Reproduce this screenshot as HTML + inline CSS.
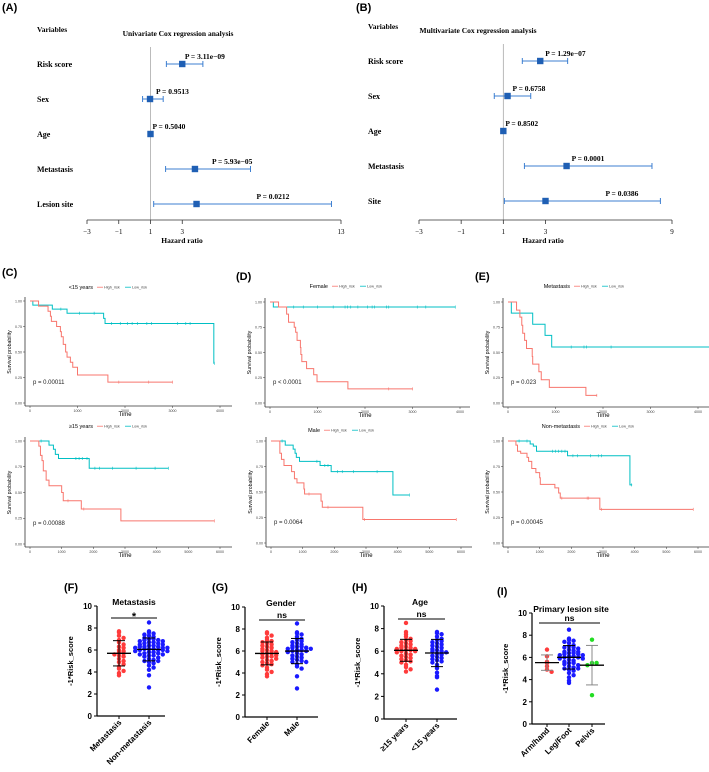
<!DOCTYPE html>
<html><head><meta charset="utf-8">
<style>
html,body{margin:0;padding:0;background:#fff;}
svg{display:block;}
.serif{font-family:"Liberation Serif",serif;font-weight:bold;}
.sans{font-family:"Liberation Sans",sans-serif;}
</style></head>
<body>
<svg id="fig" width="709" height="772" viewBox="0 0 709 772" xmlns="http://www.w3.org/2000/svg">
<rect width="709" height="772" fill="#fff"/>
<g class="sans" font-weight="bold" font-size="11">
<text x="2" y="11">(A)</text>
<text x="356" y="11">(B)</text>
<text x="2" y="276">(C)</text>
<text x="236" y="280">(D)</text>
<text x="475" y="280">(E)</text>
<text x="64" y="591">(F)</text>
<text x="212" y="591">(G)</text>
<text x="352" y="591">(H)</text>
<text x="497" y="595">(I)</text>
</g>
</svg>
<script>
const NS="http://www.w3.org/2000/svg";
const svg=document.getElementById('fig');
function el(tag,attrs,parent,txt){const e=document.createElementNS(NS,tag);for(const k in attrs)e.setAttribute(k,attrs[k]);if(txt!==undefined)e.textContent=txt;(parent||svg).appendChild(e);return e;}

/* ---------- Forest plot data ---------- */
const uniVars=["Risk score","Sex","Age","Metastasis","Lesion site"];
const uniHR=[3.0,0.97,1.0,3.8,3.9];
const uniLo=[2.0,0.5,0.95,1.95,1.2];
const uniHi=[4.3,1.8,1.05,7.3,12.4];
const uniP=["P = 3.11e\u221209","P = 0.9513","P = 0.5040","P = 5.93e\u221205","P = 0.0212"];
const uniTicks=[-3,-1,1,3,13];
const multiVars=["Risk score","Sex","Age","Metastasis","Site"];
const multiHR=[2.75,1.2,1.0,4.0,3.0];
const multiLo=[1.9,0.57,0.95,2.0,1.05];
const multiHi=[4.05,2.3,1.05,8.05,8.45];
const multiP=["P = 1.29e\u221207","P = 0.6758","P = 0.8502","P = 0.0001","P = 0.0386"];
const multiTicks=[-3,-1,1,3,9];

function forest(cfg,vars,hr,lo,hi,pv,ticks,title){
  const g=el('g',{class:'serif'});
  
  
  const sx=v=>cfg.x0+(v-ticks[0])/(ticks[ticks.length-1]-ticks[0])*(cfg.x1-cfg.x0);
  el('text',{x:cfg.lx,y:cfg.top-32,'font-size':7.5},g,'Variables');
  el('text',{x:cfg.tx,y:cfg.top-28,'font-size':7.5,'text-anchor':'middle'},g,title);
  el('line',{x1:sx(1),x2:sx(1),y1:cfg.top-17,y2:cfg.axisY,stroke:'#aaa','stroke-width':0.8},g);
  vars.forEach((v,i)=>{
    const y=cfg.top+i*35;
    el('text',{x:cfg.lx,y:y+3,'font-size':8},g,v);
    const row=el('g',{},g);
    
    
    el('line',{x1:sx(lo[i]),x2:sx(hi[i]),y1:y,y2:y,stroke:'#3d7fd1','stroke-width':1.1},row);
    el('line',{x1:sx(lo[i]),x2:sx(lo[i]),y1:y-3,y2:y+3,stroke:'#3d7fd1','stroke-width':1},row);
    el('line',{x1:sx(hi[i]),x2:sx(hi[i]),y1:y-3,y2:y+3,stroke:'#3d7fd1','stroke-width':1},row);
    el('rect',{x:sx(hr[i])-3.2,y:y-3.2,width:6.4,height:6.4,fill:'#1f5fb4'},row);
    const px=Math.max(sx(hr[i])+2,Math.min(sx(hi[i])-18,sx(hr[i])+(i==4?60:5)));
    el('text',{x:px+(cfg.poff[i]||0),y:y-5,'font-size':7.5},row,pv[i]);
  });
  el('line',{x1:cfg.x0,x2:cfg.x1,y1:cfg.axisY,y2:cfg.axisY,stroke:'#333','stroke-width':0.8},g);
  ticks.forEach(t=>{
    el('line',{x1:sx(t),x2:sx(t),y1:cfg.axisY,y2:cfg.axisY+4,stroke:'#333','stroke-width':0.8},g);
    el('text',{x:sx(t),y:cfg.axisY+14,'font-size':7,'text-anchor':'middle','font-weight':'normal'},g,(t<0?'\u2212'+(-t):t));
  });
  el('text',{x:cfg.hx,y:cfg.axisY+23,'font-size':7.5,'text-anchor':'middle'},g,'Hazard ratio');
}
forest({name:'forest-univariate',x0:87,x1:341,axisY:220,top:64,lx:37,tx:178,hx:182,poff:[0,4,0,12,0]},uniVars,uniHR,uniLo,uniHi,uniP,uniTicks,'Univariate Cox regression analysis');
forest({name:'forest-multivariate',x0:419,x1:672,axisY:220,top:61,lx:368,tx:478,hx:543,poff:[0,0,0,0,0]},multiVars,multiHR,multiLo,multiHi,multiP,multiTicks,'Multivariate Cox regression analysis');

/* ---------- KM data ---------- */
const cTopHighT=[180,380,430,450,560,640,660,700,750,780,850,900,1000,1640];
const cTopHighS=[0.95,0.90,0.85,0.80,0.75,0.70,0.65,0.575,0.50,0.45,0.40,0.35,0.275,0.205];
const cTopHighEnd=3000; const cTopHighCens=[1870,2500,3000];
const cTopLowT=[60,470,780,1550,1580,3870];
const cTopLowS=[0.96,0.92,0.88,0.83,0.78,0.39];
const cTopLowEnd=3880; const cTopLowCens=[650,1040,1350,1720,1900,2050,2150,2260,2460,2560,3110,3280,3370,3880];

const cBotHighT=[280,330,380,420,510,600,1000,1050,1620,2870];
const cBotHighS=[0.95,0.86,0.81,0.71,0.62,0.565,0.50,0.42,0.34,0.225];
const cBotHighEnd=5820; const cBotHighCens=[1200,1700,5820];
const cBotLowT=[600,740,800,900,1870];
const cBotLowS=[0.96,0.92,0.87,0.83,0.735];
const cBotLowEnd=4370; const cBotLowCens=[350,1450,1550,1650,1800,2050,2200,2600,3350,3950,4370];

const dTopHighT=[180,350,390,510,540,570,640,650,670,770,920,990,1640];
const dTopHighS=[0.95,0.88,0.80,0.75,0.70,0.62,0.55,0.48,0.41,0.34,0.28,0.21,0.14];
const dTopHighEnd=3000; const dTopHighCens=[2500,3000];
const dTopLowT=[70];
const dTopLowS=[0.95];
const dTopLowEnd=3900; const dTopLowCens=[500,700,1000,1330,1580,1630,1700,1850,2050,2150,2200,2450,2500,3100,3280,3900];

const dBotHighT=[280,330,410,650,740,820,1040,1060,1580,1620,2900];
const dBotHighS=[0.88,0.82,0.76,0.70,0.63,0.59,0.53,0.48,0.41,0.35,0.23];
const dBotHighEnd=5850; const dBotHighCens=[1200,1800,2950,5850];
const dBotLowT=[450,700,760,800,900,1550,1900,3850];
const dBotLowS=[0.96,0.92,0.88,0.84,0.80,0.76,0.70,0.47];
const dBotLowEnd=4370; const dBotLowCens=[350,1450,1700,1800,2100,2250,2600,3350,4370];

const eTopHighT=[180,250,290,310,350,390,510,520,650,700,870,1640];
const eTopHighS=[0.92,0.85,0.77,0.69,0.62,0.54,0.46,0.385,0.31,0.23,0.155,0.075];
const eTopHighEnd=1870; const eTopHighCens=[1870];
const eTopLowT=[70,520,780,920];
const eTopLowS=[0.89,0.78,0.67,0.555];
const eTopLowEnd=4300; const eTopLowCens=[1330,1600,1650,2170];

const eBotHighT=[250,300,400,600,650,750,880,1000,1020,1480,1600,1650,2900];
const eBotHighS=[0.96,0.90,0.88,0.84,0.80,0.73,0.69,0.64,0.575,0.54,0.49,0.44,0.33];
const eBotHighEnd=5850; const eBotHighCens=[1700,2500,2550,2950,5850];
const eBotLowT=[700,800,900,1880,3850];
const eBotLowS=[0.97,0.95,0.90,0.855,0.57];
const eBotLowEnd=3920; const eBotLowCens=[350,600,1400,1500,1600,1700,1800,2050,2200,2600,2850,2950,3900];

const kmYTicks=[0,0.25,0.5,0.75,1];
const kmPvals=["p = 0.00011","p = 0.00088","p < 0.0001","p = 0.0064","p = 0.023","p = 0.00045"];

const HIGH='#F8766D', LOW='#00BFC4';
function km(cfg,hT,hS,hEnd,hC,lT,lS,lEnd,lC,pv,xTicks){
  const g=el('g',{class:'sans'});
  
  
  const sx=t=>cfg.x0+t/cfg.tmax*190;
  const sy=s=>cfg.y0+(1-s)*(cfg.y1-cfg.y0);
  const ax=cfg.x0-5;
  el('line',{x1:ax,x2:ax,y1:cfg.y0-4,y2:cfg.axisY,stroke:'#333','stroke-width':0.8},g);
  el('line',{x1:ax,x2:cfg.xEnd,y1:cfg.axisY,y2:cfg.axisY,stroke:'#333','stroke-width':0.8},g);
  kmYTicks.forEach(v=>{
    el('line',{x1:ax-2,x2:ax,y1:sy(v),y2:sy(v),stroke:'#333','stroke-width':0.5},g);
    el('text',{x:ax-3,y:sy(v)+1.3,'font-size':3.6,'text-anchor':'end',fill:'#444'},g,v.toFixed(2));
  });
  xTicks.forEach(t=>{
    el('line',{x1:sx(t),x2:sx(t),y1:cfg.axisY,y2:cfg.axisY+2,stroke:'#333','stroke-width':0.5},g);
    el('text',{x:sx(t),y:cfg.axisY+6,'font-size':3.6,'text-anchor':'middle',fill:'#444'},g,t);
  });
  el('text',{x:cfg.x0+95,y:cfg.axisY+10,'font-size':6,'text-anchor':'middle'},g,'Time');
  el('text',{x:0,y:0,'font-size':5.2,'text-anchor':'middle',transform:`translate(${cfg.x0-19},${(cfg.y0+cfg.y1)/2}) rotate(-90)`},g,'Survival probability');
  el('text',{x:cfg.x0+3,y:cfg.y1-19,'font-size':6,fill:'#222'},g,pv);
  el('text',{x:cfg.lgx,y:cfg.lgy,'font-size':5.5,'text-anchor':'end'},g,cfg.title);
  el('line',{x1:cfg.lgx+4,x2:cfg.lgx+10,y1:cfg.lgy-1.8,y2:cfg.lgy-1.8,stroke:HIGH,'stroke-width':0.8},g);
  el('text',{x:cfg.lgx+11,y:cfg.lgy-0.5,'font-size':3.8,fill:'#444'},g,'High_risk');
  el('line',{x1:cfg.lgx+32,x2:cfg.lgx+38,y1:cfg.lgy-1.8,y2:cfg.lgy-1.8,stroke:LOW,'stroke-width':0.8},g);
  el('text',{x:cfg.lgx+39,y:cfg.lgy-0.5,'font-size':3.8,fill:'#444'},g,'Low_risk');
  function curve(T,S,end,C,col,nm){
    let d=`M${sx(0)},${sy(1)}`;
    T.forEach((t,i)=>{d+=` H${sx(t)} V${sy(S[i])}`;});
    d+=` H${Math.min(sx(end),cfg.xEnd)}`;
    const p=el('path',{d:d,fill:'none',stroke:col,'stroke-width':1},g);
    
    
    C.forEach(c=>{
      let s=1;T.forEach((t,i)=>{if(t<=c)s=S[i];});
      if(sx(c)<=cfg.xEnd) el('line',{x1:sx(c),x2:sx(c),y1:sy(s)-1.5,y2:sy(s)+1.5,stroke:col,'stroke-width':0.6},g);
    });
  }
  curve(lT,lS,lEnd,lC,LOW,'low-risk-curve');
  curve(hT,hS,hEnd,hC,HIGH,'high-risk-curve');
}
const xt4=[0,1000,2000,3000,4000], xt6=[0,1000,2000,3000,4000,5000,6000];
km({name:'km-c-under15',x0:30,y0:301,y1:403,axisY:406,tmax:4000,xEnd:232,title:'<15 years',lgx:93,lgy:289},cTopHighT,cTopHighS,cTopHighEnd,cTopHighCens,cTopLowT,cTopLowS,cTopLowEnd,cTopLowCens,kmPvals[0],xt4);
km({name:'km-c-over15',x0:30,y0:441,y1:544,axisY:547,tmax:6000,xEnd:232,title:'\u226515 years',lgx:93,lgy:428},cBotHighT,cBotHighS,cBotHighEnd,cBotHighCens,cBotLowT,cBotLowS,cBotLowEnd,cBotLowCens,kmPvals[1],xt6);
km({name:'km-d-female',x0:270,y0:302,y1:403,axisY:407,tmax:4000,xEnd:470,title:'Female',lgx:328,lgy:288},dTopHighT,dTopHighS,dTopHighEnd,dTopHighCens,dTopLowT,dTopLowS,dTopLowEnd,dTopLowCens,kmPvals[2],xt4);
km({name:'km-d-male',x0:271,y0:441,y1:543,axisY:547,tmax:6000,xEnd:472,title:'Male',lgx:320,lgy:432},dBotHighT,dBotHighS,dBotHighEnd,dBotHighCens,dBotLowT,dBotLowS,dBotLowEnd,dBotLowCens,kmPvals[3],xt6);
km({name:'km-e-metastasis',x0:508,y0:302,y1:403,axisY:407,tmax:4000,xEnd:709,title:'Metastasis',lgx:570,lgy:288},eTopHighT,eTopHighS,eTopHighEnd,eTopHighCens,eTopLowT,eTopLowS,eTopLowEnd,eTopLowCens,kmPvals[4],xt4);
km({name:'km-e-nonmetastasis',x0:508,y0:441,y1:543,axisY:547,tmax:6000,xEnd:709,title:'Non-metastasis',lgx:580,lgy:428},eBotHighT,eBotHighS,eBotHighEnd,eBotHighCens,eBotLowT,eBotLowS,eBotLowEnd,eBotLowCens,kmPvals[5],xt6);

/* ---------- Scatter data ---------- */
const fCats=["Metastasis","Non-metastasis"];
const fMet=[7.7,7.6,7.3,7.1,6.9,6.7,6.5,6.3,6.2,6.0,5.9,5.8,5.7,5.6,5.5,5.4,5.2,5.0,4.9,4.7,4.5,4.3,4.1,3.9,3.7];
const fNon=[8.5,7.7,7.6,7.5,7.4,7.3,7.2,7.1,7.0,7.0,6.9,6.9,6.8,6.8,6.7,6.7,6.6,6.6,6.5,6.5,6.4,6.4,6.3,6.3,6.3,6.2,6.2,6.2,6.1,6.1,6.1,6.0,6.0,6.0,5.9,5.9,5.8,5.8,5.7,5.7,5.6,5.6,5.5,5.5,5.4,5.3,5.2,5.1,5.0,5.0,4.9,4.8,4.6,4.4,4.2,3.7,2.6];
const gCats=["Female","Male"];
const gFemale=[7.7,7.6,7.4,7.2,7.0,6.9,6.8,6.7,6.6,6.5,6.4,6.3,6.2,6.1,6.0,6.0,5.9,5.8,5.8,5.7,5.6,5.5,5.5,5.4,5.3,5.2,5.1,5.0,4.9,4.8,4.7,4.5,4.3,4.1,3.9,3.7];
const gMale=[8.5,7.7,7.6,7.5,7.3,7.1,7.0,6.9,6.8,6.7,6.6,6.5,6.4,6.4,6.3,6.3,6.2,6.2,6.1,6.1,6.0,6.0,5.9,5.8,5.7,5.6,5.5,5.4,5.3,5.2,5.1,5.0,5.0,4.8,4.6,4.4,3.7,2.6];
const hCats=["\u226515 years","<15 years"];
const hOver=[8.5,7.7,7.5,7.3,7.1,7.0,6.9,6.8,6.7,6.6,6.5,6.4,6.3,6.3,6.2,6.2,6.1,6.1,6.0,6.0,5.9,5.8,5.7,5.6,5.5,5.4,5.3,5.2,5.1,5.0,4.8,4.6,4.4,4.2];
const hUnder=[7.7,7.6,7.5,7.3,7.1,7.0,6.9,6.8,6.7,6.6,6.5,6.4,6.3,6.2,6.1,6.0,6.0,5.9,5.8,5.7,5.6,5.5,5.4,5.3,5.2,5.1,5.0,4.8,4.5,4.1,3.8,3.7,2.6];
const iCats=["Arm/hand","Leg/Foot","Pelvis"];
const iArm=[6.7,6.1,5.6,5.5,5.2,4.9,4.7];
const iLeg=[8.5,7.7,7.6,7.5,7.4,7.3,7.1,7.0,6.9,6.9,6.8,6.7,6.6,6.5,6.5,6.4,6.4,6.3,6.3,6.2,6.2,6.1,6.1,6.0,6.0,5.9,5.9,5.8,5.7,5.6,5.5,5.5,5.4,5.3,5.2,5.1,5.0,5.0,4.9,4.8,4.6,4.4,4.2,3.9,3.7];
const iPelvis=[7.6,5.5,5.5,5.3,2.6];
const scYTicks=[0,2,4,6,8,10];

function scatter(cfg,cats,groups,colors,title,sig){
  const g=el('g',{class:'sans','font-weight':'bold'});
  
  
  const sy=v=>cfg.y0-v/10*(cfg.y0-cfg.y10);
  el('line',{x1:cfg.ax,x2:cfg.ax,y1:cfg.y10,y2:cfg.y0,stroke:'#000','stroke-width':1.2},g);
  el('line',{x1:cfg.ax,x2:cfg.xEnd,y1:cfg.y0,y2:cfg.y0,stroke:'#000','stroke-width':1.2},g);
  scYTicks.forEach(v=>{
    el('line',{x1:cfg.ax-3,x2:cfg.ax,y1:sy(v),y2:sy(v),stroke:'#000','stroke-width':1},g);
    el('text',{x:cfg.ax-5,y:sy(v)+3,'font-size':8,'text-anchor':'end'},g,v);
  });
  el('text',{x:0,y:0,'font-size':7.5,'text-anchor':'middle',transform:`translate(${cfg.ax-24},${(cfg.y0+cfg.y10)/2}) rotate(-90)`},g,'-1*Risk_score');
  el('text',{x:cfg.tx,y:cfg.y10-1,'font-size':8.5,'text-anchor':'middle'},g,title);
  const xs=cfg.cx;
  el('line',{x1:xs[0]-8,x2:xs[xs.length-1]+8,y1:cfg.sigY,y2:cfg.sigY,stroke:'#000','stroke-width':1},g);
  el('text',{x:(xs[0]+xs[xs.length-1])/2,y:cfg.sigY-(sig=='*'?-2:2),'font-size':sig=='*'?11:8.5,'text-anchor':'middle'},g,sig);
  groups.forEach((vals,gi)=>{
    const cx=xs[gi];
    const bins={};
    vals.forEach(v=>{
      const b=Math.round(v/0.3);
      const k=bins[b]=(bins[b]||0)+1;
      const idx=k-1;
      const off=(idx==0?0:(idx%2?1:-1)*Math.ceil(idx/2)*4.6);
      el('circle',{cx:cx+off,cy:sy(v),r:2.2,fill:colors[gi]},g);
    });
    const n=vals.length, m=vals.reduce((a,b)=>a+b,0)/n;
    const sd=Math.sqrt(vals.reduce((a,b)=>a+(b-m)*(b-m),0)/(n-1));
    const lc=cfg.errColor&&cfg.errColor[gi]||'#000';
    el('line',{x1:cx,x2:cx,y1:sy(m-sd),y2:sy(m+sd),stroke:lc,'stroke-width':1},g);
    el('line',{x1:cx-6,x2:cx+6,y1:sy(m-sd),y2:sy(m-sd),stroke:lc,'stroke-width':1},g);
    el('line',{x1:cx-6,x2:cx+6,y1:sy(m+sd),y2:sy(m+sd),stroke:lc,'stroke-width':1},g);
    el('line',{x1:cx-12,x2:cx+12,y1:sy(m),y2:sy(m),stroke:'#000','stroke-width':1.3},g);
    el('line',{x1:cx,x2:cx,y1:cfg.y0,y2:cfg.y0+3,stroke:'#000','stroke-width':1},g);
    el('text',{x:0,y:0,'font-size':8,'text-anchor':'end',transform:`translate(${cx+3},${cfg.y0+7}) rotate(-45)`},g,cats[gi]);
  });
}
scatter({name:'scatter-f-metastasis',ax:97,y0:716,y10:606,xEnd:165,cx:[119,149],tx:134,sigY:618},fCats,[fMet,fNon],['#ff3b3b','#1a1aff'],'Metastasis','*');
scatter({name:'scatter-g-gender',ax:245,y0:717,y10:607,xEnd:318,cx:[267,297],tx:281,sigY:620},gCats,[gFemale,gMale],['#ff3b3b','#1a1aff'],'Gender','ns');
scatter({name:'scatter-h-age',ax:384,y0:719,y10:606,xEnd:457,cx:[406,437],tx:420,sigY:619},hCats,[hOver,hUnder],['#ff3b3b','#1a1aff'],'Age','ns');
scatter({name:'scatter-i-lesion-site',ax:532,y0:724,y10:613,xEnd:605,cx:[547,569,592],tx:571,sigY:623,errColor:['#888','#000','#888']},iCats,[iArm,iLeg,iPelvis],['#ff3b3b','#1a1aff','#22dd22'],'Primary lesion site','ns');
</script>
</body></html>
